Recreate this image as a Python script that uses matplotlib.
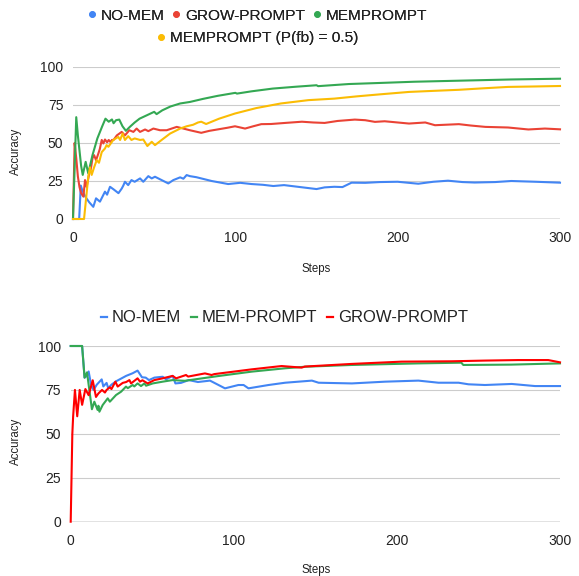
import matplotlib
matplotlib.use("Agg")
import matplotlib.pyplot as plt
from matplotlib.lines import Line2D

plt.rcParams['font.family'] = ['Liberation Sans', 'DejaVu Sans']

# ---------------- upper panel: cumulative accuracy per step ----------------
top_nomem_x = [0, 3.8, 4.8, 6, 8, 10, 12.5, 14.2, 16.6, 19.7, 21, 22.8, 25, 28, 30, 31, 32, 34, 36, 38,
               41.3, 43.3, 46.4, 48.5, 50.5, 54.6, 58.7, 61.8, 66, 68, 70, 72, 76, 85.4, 95.6, 103, 110,
               117, 123.4, 130, 140, 150, 155, 161, 166, 171.6, 180, 189, 200, 212.7, 222, 231, 240,
               247.4, 260, 270, 285, 300]
top_nomem_y = [0, 0, 22, 18, 14, 11, 8, 13.6, 11.4, 18, 16, 21.2, 19.5, 17, 20, 22, 24.5, 22.3, 25.6, 24.5,
               26.7, 24.5, 28.2, 26.7, 27.8, 25.6, 23.4, 25.6, 27.4, 26.5, 28.9, 28.2, 27.5, 25, 23, 23.8, 23,
               22.5, 21.7, 22.3, 21, 19.7, 20.8, 21.2, 21, 23.9, 23.8, 24.3, 24.5, 23.2, 24.5, 25.2, 24.3,
               24, 24.3, 25, 24.5, 23.9]

top_grow_x = [0, 1, 2, 3, 4, 5, 6.4, 7.4, 8.4, 10, 11, 12, 13, 14.2, 15.6, 16.5, 17.7, 18.7, 19.7, 21, 22,
              23.2, 24, 25, 27, 30, 32, 34.7, 37.2, 39.2, 41.3, 44.4, 46.4, 49.5, 53.6, 57.7, 63.9, 68, 72,
              79, 84, 89.5, 95, 99.8, 106, 111, 116, 122, 130.6, 141, 148, 155, 163, 173.6, 180, 186, 192,
              207, 217, 223, 237.7, 245, 254, 268, 280.5, 290.7, 300]
top_grow_y = [0, 50, 40, 28, 21, 17, 14.7, 25.6, 21, 30, 33, 40, 42, 38.7, 43, 46, 52, 49.7, 52.3, 50.5, 52,
              50.5, 52, 52, 55, 57.3, 55, 58.4, 57.3, 59.5, 57.3, 58.9, 57.8, 59.5, 58.4, 58.4, 60.6, 59.5, 58.4,
              56.7, 58, 59, 60, 61, 59.5, 61, 62.4, 62.5, 63.2, 64, 63.5, 63.2, 64.5, 65.4, 65, 63.9, 64.3,
              62.8, 63.5, 61.7, 62.4, 61.5, 60.6, 60.2, 58.9, 59.5, 59]

top_mem_x = [0, 2, 3, 5, 6, 7.8, 9.4, 12, 15, 18, 20, 22, 24, 25, 26.5, 28.5, 30.5, 32.6, 35, 38, 41, 45,
             50, 51.5, 55, 60, 66, 72, 80, 89, 100, 101, 110, 123, 137, 150, 151, 170, 189, 210, 230, 250,
             270, 300]
top_mem_y = [0, 67, 55, 35, 29, 37.6, 30, 42, 53, 61, 66, 64, 65.5, 63, 65, 65.4, 61, 58, 60.6, 63.5, 66, 68,
             70.5, 69, 71.5, 74, 76, 77, 79, 81, 83, 82.5, 84, 85.8, 87, 88, 87.4, 88.8, 89.5, 90.3, 90.8, 91.3,
             91.8, 92.3]

top_mem05_x = [0, 6.8, 9.4, 10.5, 11.5, 13, 14.6, 16, 17.7, 19.7, 20.7, 21.8, 24.8, 27.9, 29, 30.6, 32, 34,
               36, 38, 41.3, 43.3, 45.8, 48.5, 50.5, 54.6, 59.8, 66, 70, 74, 77, 79, 82, 90, 99.8, 113, 128,
               145, 161, 175, 189, 207, 222, 237.7, 253, 268, 285, 300]
top_mem05_y = [0, 0, 27.8, 34, 29, 34, 38.7, 37, 44, 46.4, 48.6, 47.5, 52, 54, 52, 56.2, 52, 54.5,
               52, 53, 52, 52.3, 48, 50.8, 48.6, 52, 56.2, 59.5, 61, 62, 63.5, 64, 62.5, 66, 69.4, 73, 76,
               78.2, 79.2, 80.7, 82, 83.6, 84.3, 85, 86, 86.9, 87.2, 87.5]

# ---------------- lower panel ----------------
bot_nomem_x = [0, 7, 8.5, 10, 11, 12.5, 14, 16, 19, 20, 22, 23, 25, 28, 30, 34, 38, 41, 43.7, 46, 48, 51.3,
               56.4, 58.5, 62.5, 64.2, 67.6, 72.4, 78, 85.4, 94.6, 102.8, 106, 109, 121.3, 131.5, 147.9,
               152, 172.4, 192.8, 213.2, 225.5, 237.8, 243.9, 254, 270.4, 284.7, 300]
bot_nomem_y = [100, 100, 82, 83, 85.5, 78, 75, 78, 81, 77, 79, 76, 78, 80, 81, 83, 84.5, 86, 82.2, 82, 80.6, 82,
               82.5, 81, 83, 78.7, 79, 80.6, 79.5, 80.3, 75.9, 77.8, 77.8, 75.9, 77.8, 79.1, 80.3,
               79.1, 78.7, 79.7, 80.3, 79.1, 79.1, 78.2, 77.8, 78.4, 77.2, 77.2]

bot_mem_x = [0, 7, 8.5, 10, 11, 13, 14.5, 16.5, 17, 17.6, 19.6, 22.7, 24, 27.8, 30.9, 33.9, 35, 38, 39, 41,
             43.1, 45.2, 46.2, 50.3, 56.4, 62.5, 67.6, 70, 90.5, 110.9, 131.3, 143.6, 172.2, 213, 239.5,
             240.7, 270, 300]
bot_mem_y = [100, 100, 82, 85, 78, 64, 68.3, 63.6, 66, 62.6, 66.4, 70.2, 68.3, 72.1, 74, 76.9, 76, 77.8, 77,
             78.7, 77.2, 78.7, 77.4, 78.7, 79.7, 80.6, 80.3, 80.2, 82.9, 85.4, 87.3, 88.2, 89.2, 90.1, 90.5,
             89.2, 89.4, 90.1]

bot_grow_x = [0, 1, 1.5, 2.6, 4, 5.5, 7, 9, 11, 13.5, 15.5, 17, 19.2, 21, 22, 24, 25, 27.4, 28.8, 31.9, 34,
              36, 37, 41, 42.5, 44, 47.2, 51.3, 56.4, 62.5, 64.6, 70.7, 72, 82.3, 86.4, 88, 110.9, 129.3,
              141.6, 143.6, 172.2, 202.9, 233.5, 254, 274.4, 292.8, 300]
bot_grow_y = [0, 50, 60, 75, 60, 75, 66.5, 75.5, 72, 80.5, 71, 73, 75, 73.5, 75, 76.5, 75.5, 79.7, 76.9, 79,
              79.5, 80.6, 78.7, 81.6, 79.7, 80.5, 78.7, 80.6, 81.6, 83, 81.6, 83.5, 82.6, 84.4, 83.5, 84,
              86.7, 88.6, 87.7, 88.3, 89.8, 91.1, 91.3, 91.7, 92, 92, 90.7]

x_ticks = [0, 100, 200, 300]
y_ticks = [0, 25, 50, 75, 100]

BLUE, RED, GREEN, YELLOW, PURE_RED = '#4285F4', '#EA4335', '#34A853', '#FBBC04', '#FF0000'

W, H = 579, 576
fig = plt.figure(figsize=(W / 100, H / 100), dpi=100)


def rect(l, t, r, b):
    return [l / W, 1 - b / H, (r - l) / W, (b - t) / H]


def style(ax):
    ax.set_xlim(0, 300)
    ax.set_ylim(0, 100)
    ax.set_xticks(x_ticks)
    ax.set_yticks(y_ticks)
    for s in ax.spines.values():
        s.set_visible(False)
    ax.tick_params(length=0, labelsize=10, colors='#222222')
    ax.tick_params(axis='y', pad=7)
    ax.tick_params(axis='x', pad=9)
    ax.yaxis.grid(True, color='#cccccc', lw=0.8)
    ax.xaxis.grid(False)
    ax.set_axisbelow(True)
    ax.axhline(0, color='#333333', lw=0.9, zorder=1.5)


ax1 = fig.add_axes(rect(73, 67, 560, 219))
style(ax1)
lw = 1.5
ax1.plot(top_nomem_x, top_nomem_y, color=BLUE, lw=lw, clip_on=False, zorder=3)
ax1.plot(top_grow_x, top_grow_y, color=RED, lw=lw, clip_on=False, zorder=3)
ax1.plot(top_mem_x, top_mem_y, color=GREEN, lw=lw, clip_on=False, zorder=3)
ax1.plot(top_mem05_x, top_mem05_y, color=YELLOW, lw=lw, clip_on=False, zorder=3)

ax2 = fig.add_axes(rect(70.7, 346, 560, 521.7))
style(ax2)
ax2.plot(bot_nomem_x, bot_nomem_y, color=BLUE, lw=lw, clip_on=False, zorder=3)
ax2.plot(bot_mem_x, bot_mem_y, color=GREEN, lw=lw, clip_on=False, zorder=3)
ax2.plot(bot_grow_x, bot_grow_y, color=PURE_RED, lw=lw, clip_on=False, zorder=3)

# axis titles
fig.text(316 / W, 1 - 269 / H, 'Steps', ha='center', va='center', fontsize=8.3, color='#222222')
fig.text(316 / W, 1 - 570 / H, 'Steps', ha='center', va='center', fontsize=8.3, color='#222222')
fig.text(16 / W, 1 - 151 / H, 'Accuracy', ha='center', va='center', rotation=90, fontsize=8.3, color='#222222')
fig.text(16 / W, 1 - 441 / H, 'Accuracy', ha='center', va='center', rotation=90, fontsize=8.3, color='#222222')


def dot(c):
    return Line2D([], [], color=c, marker='o', ls='none', markersize=3.8)


def dash(c):
    return Line2D([], [], color=c, lw=1.6)


common = dict(frameon=False, borderaxespad=0, borderpad=0, labelcolor='#222222')

leg1 = fig.legend([dot(BLUE), dot(RED), dot(GREEN)], ['NO-MEM', 'GROW-PROMPT', 'MEMPROMPT'],
                  loc='center', bbox_to_anchor=(258 / W, 1 - 15.5 / H), ncol=3, fontsize=11.1,
                  handlelength=0.4, handletextpad=0.35, columnspacing=0.6, **common)
leg2 = fig.legend([dot(YELLOW)], ['MEMPROMPT (P(fb) = 0.5)'],
                  loc='center', bbox_to_anchor=(258 / W, 1 - 38 / H), ncol=1, fontsize=11.1,
                  handlelength=0.4, handletextpad=0.35, **common)
fig.add_artist(leg1)
leg3 = fig.legend([dash(BLUE), dash(GREEN), dash(PURE_RED)], ['NO-MEM', 'MEM-PROMPT', 'GROW-PROMPT'],
                  loc='center', bbox_to_anchor=(284.5 / W, 1 - 318 / H), ncol=3, fontsize=12,
                  handlelength=0.35, handletextpad=0.3, columnspacing=0.6, **common)
fig.add_artist(leg2)

fig.savefig('out.png', dpi=100)
